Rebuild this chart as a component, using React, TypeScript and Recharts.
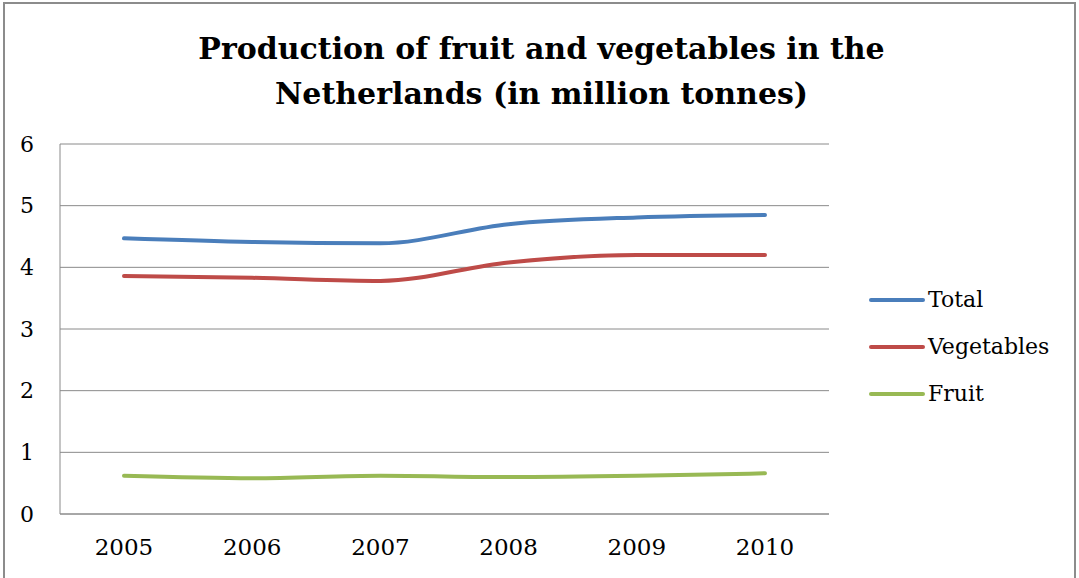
import { LineChart, Line, XAxis, YAxis, CartesianGrid } from "recharts";

// ─── Data ────────────────────────────────────────────────────────────────────

const years = ["2005", "2006", "2007", "2008", "2009", "2010"];
const total = [4.47, 4.41, 4.39, 4.7, 4.81, 4.85];
const vegetables = [3.86, 3.83, 3.78, 4.08, 4.2, 4.2];
const fruit = [0.62, 0.58, 0.62, 0.6, 0.62, 0.66];
const yTicks = [0, 1, 2, 3, 4, 5, 6];

const SERIES = [
  { key: "total", name: "Total", color: "#4A7EBB" },
  { key: "vegetables", name: "Vegetables", color: "#BE4B48" },
  { key: "fruit", name: "Fruit", color: "#98B954" },
];

const FONT = "'DejaVu Serif', 'Liberation Serif', serif";

const data = years.map((year, i) => ({
  year,
  total: total[i],
  vegetables: vegetables[i],
  fruit: fruit[i],
}));

// Legend (plain HTML, placed to the right of the plot)

function LegendBox() {
  return (
    <div
      style={{
        position: "absolute",
        left: 868,
        top: 276,
        fontFamily: FONT,
        fontSize: 22,
        color: "#000",
      }}
    >
      {SERIES.map((s) => (
        <div
          key={s.key}
          style={{ display: "flex", alignItems: "center", height: 47 }}
        >
          <svg width={58} height={10} style={{ marginRight: 2 }}>
            <line
              x1={3}
              y1={5}
              x2={55}
              y2={5}
              stroke={s.color}
              strokeWidth={4}
              strokeLinecap="round"
            />
          </svg>
          <span>{s.name}</span>
        </div>
      ))}
    </div>
  );
}

export default function App() {
  return (
    <div
      style={{
        position: "fixed",
        left: 0,
        top: 0,
        width: 1079,
        height: 578,
        background: "#fff",
        overflow: "hidden",
      }}
    >
      {/* Outer frame */}
      <div
        style={{
          position: "absolute",
          left: 3,
          top: 2,
          width: 1069,
          height: 600,
          border: "2px solid #8c8c8c",
        }}
      />

      {/* Title */}
      <div
        style={{
          position: "absolute",
          left: 0,
          top: 26,
          width: 1083,
          textAlign: "center",
          fontFamily: FONT,
          fontWeight: 700,
          fontSize: 30,
          lineHeight: "45px",
          color: "#000",
        }}
      >
        Production of fruit and vegetables in the
        <br />
        Netherlands (in million tonnes)
      </div>

      <div style={{ position: "absolute", left: 0, top: 0 }}>
        <LineChart
          width={1079}
          height={578}
          data={data}
          margin={{ top: 144, right: 250, bottom: 0, left: 0 }}
        >
          <CartesianGrid stroke="#8a8a8a" vertical={false} />
          <XAxis
            dataKey="year"
            padding={{ left: 64, right: 64 }}
            axisLine={{ stroke: "#8a8a8a" }}
            tickLine={false}
            tick={{ fontFamily: FONT, fontSize: 23, fill: "#000" }}
            tickMargin={19}
            height={64}
          />
          <YAxis
            domain={[0, 6]}
            ticks={yTicks}
            axisLine={{ stroke: "#8a8a8a" }}
            tickLine={false}
            tick={{ fontFamily: FONT, fontSize: 22, fill: "#000" }}
            tickMargin={20}
            width={60}
          />
          {SERIES.map((s) => (
            <Line
              key={s.key}
              type="monotone"
              dataKey={s.key}
              name={s.name}
              stroke={s.color}
              strokeWidth={4}
              strokeLinecap="round"
              dot={false}
              activeDot={false}
              isAnimationActive={false}
            />
          ))}
        </LineChart>
      </div>
      <LegendBox />
    </div>
  );
}
